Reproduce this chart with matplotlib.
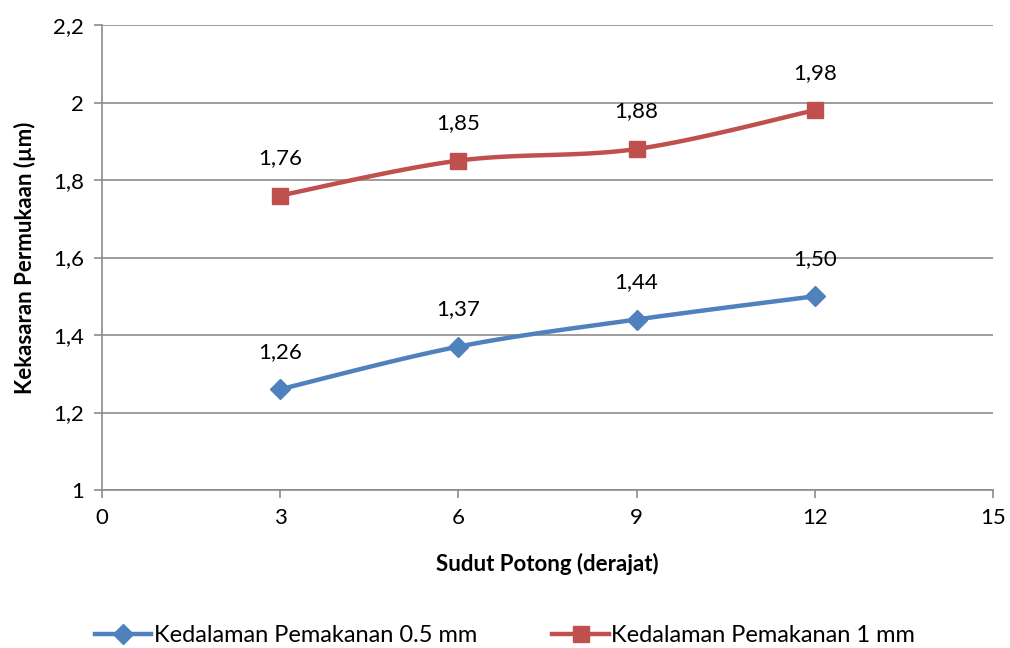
import numpy as np
import matplotlib
matplotlib.use("Agg")
from matplotlib import pyplot as plt
from matplotlib import font_manager

# data
sudut = [3, 6, 9, 12]
kedalaman_05 = [1.26, 1.37, 1.44, 1.50]
kedalaman_1 = [1.76, 1.85, 1.88, 1.98]
label_05 = ['1,26', '1,37', '1,44', '1,50']
label_1 = ['1,76', '1,85', '1,88', '1,98']
series_names = ['Kedalaman Pemakanan 0.5 mm', 'Kedalaman Pemakanan 1 mm']
yticks = [1, 1.2, 1.4, 1.6, 1.8, 2, 2.2]
ytick_labels = ['1', '1,2', '1,4', '1,6', '1,8', '2', '2,2']
xticks = [0, 3, 6, 9, 12, 15]

names = {f.name for f in font_manager.fontManager.ttflist}
family = 'Lato' if 'Lato' in names else 'DejaVu Sans'
plt.rcParams['font.family'] = [family, 'DejaVu Sans']


def smooth(x, y, n=30):
    """Excel-like smoothed line: cubic bezier with tension 1/6."""
    p = np.column_stack([x, y]).astype(float)
    out = [p[0]]
    for i in range(len(p) - 1):
        p0 = p[i - 1] if i > 0 else p[i]
        p3 = p[i + 2] if i + 2 < len(p) else p[i + 1]
        c1 = p[i] + (p[i + 1] - p0) / 6
        c2 = p[i + 1] - (p3 - p[i]) / 6
        t = np.linspace(0, 1, n)[1:, None]
        seg = ((1 - t) ** 3 * p[i] + 3 * (1 - t) ** 2 * t * c1
               + 3 * (1 - t) * t ** 2 * c2 + t ** 3 * p[i + 1])
        out.extend(seg)
    out = np.array(out)
    return out[:, 0], out[:, 1]


fig = plt.figure(figsize=(10.1, 6.48), dpi=100)
ax = fig.add_axes([0.101, 0.2438, 0.882, 0.7176])

grey = '#8c8c8c'
fs = 16
series = [
    (kedalaman_05, label_05, '#4F81BD', 'D', 10),
    (kedalaman_1, label_1, '#C0504D', 's', 11),
]
handles = []
for (vals, labels, color, marker, ms), name in zip(series, series_names):
    sx, sy = smooth(sudut, vals)
    ax.plot(sx, sy, color=color, lw=3.2, solid_capstyle='round', zorder=3)
    ax.plot(sudut, vals, linestyle='none', marker=marker, ms=ms,
            color=color, zorder=4)
    h, = ax.plot([], [], color=color, lw=3.2, marker=marker, ms=ms)
    handles.append(h)
    for xv, yv, lab in zip(sudut, vals, labels):
        ax.annotate(lab, (xv, yv), xytext=(0, 27), textcoords='offset points',
                    ha='center', va='center', fontsize=fs)

ax.set_xlim(0, 15)
ax.set_ylim(1, 2.2)
ax.set_xticks(xticks)
ax.set_yticks(yticks)
ax.set_yticklabels(ytick_labels)
ax.tick_params(axis='both', labelsize=fs, color=grey, length=6, width=1.2,
               direction='out', pad=7)
ax.grid(axis='y', color=grey, lw=1.2)
ax.set_axisbelow(True)
for side in ['top', 'right']:
    ax.spines[side].set_visible(False)
for side in ['left', 'bottom']:
    ax.spines[side].set_color(grey)
    ax.spines[side].set_linewidth(1.2)

ax.set_xlabel('Sudut Potong (derajat)', fontsize=fs, fontweight='bold',
              labelpad=18)
ax.set_ylabel('Kekasaran Permukaan (µm)', fontsize=fs, fontweight='bold',
              labelpad=12)

fig.legend(handles, series_names, loc='lower center',
           bbox_to_anchor=(0.5, -0.03), ncol=2, frameon=False, fontsize=17,
           handlelength=2.4, handletextpad=0.1, columnspacing=3.2)

fig.savefig('out.png', dpi=100)
